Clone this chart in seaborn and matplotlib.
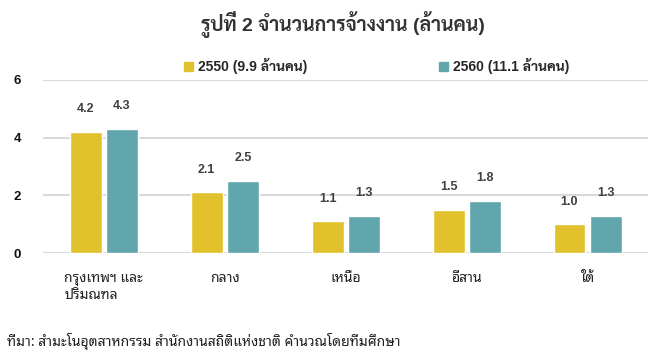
import pandas as pd
import numpy as np
import matplotlib
matplotlib.use('Agg')
import matplotlib.pyplot as plt
import seaborn as sns
import warnings
warnings.filterwarnings('ignore')

regions = ['กรุงเทพฯ และ\nปริมณฑล', 'กลาง', 'เหนือ', 'อีสาน', 'ใต้']
emp_2550 = [4.2, 2.1, 1.1, 1.5, 1.0]
emp_2560 = [4.3, 2.5, 1.3, 1.8, 1.3]
series = ['2550 (9.9 ล้านคน)', '2560 (11.1 ล้านคน)']
yticks = [0, 2, 4, 6]

thai = ['Noto Sans Thai Looped', 'DejaVu Sans']
bold_mixed = ['Liberation Sans', 'Sarabun', 'DejaVu Sans']

df = pd.DataFrame({
    'region': regions * 2,
    'value': emp_2550 + emp_2560,
    'year': [series[0]] * len(regions) + [series[1]] * len(regions),
})

sns.set_style('white')
plt.rcParams['font.family'] = thai

fig = plt.figure(figsize=(6.56, 3.58), dpi=100)
ax = fig.add_axes([0.066, 0.293, 0.922, 0.484])

sns.barplot(data=df, x='region', y='value', hue='year', order=regions,
            hue_order=series, palette=['#E1C22C', '#62A6AD'],
            width=0.6, gap=0.12, saturation=1, ax=ax, legend=False)

for c in ax.containers:
    ax.bar_label(c, fmt='%.1f', padding=12, fontsize=9, fontweight='bold',
                 color='#404040', family='Liberation Sans')

ax.set_ylim(0, 6)
ax.set_yticks(yticks)
ax.set_yticklabels([str(t) for t in yticks], fontsize=9.5, fontweight='bold',
                   family='Liberation Sans', color='#111111')
ax.yaxis.grid(True, color='#D9D9D9', linewidth=1.5)
ax.set_axisbelow(True)
for s in ax.spines.values():
    s.set_visible(False)
ax.tick_params(axis='both', length=0)
ax.tick_params(axis='y', pad=16)
ax.tick_params(axis='x', pad=13, labelsize=10, labelcolor='#222222')
ax.set_xlabel('')
ax.set_ylabel('')
for lab in ax.get_xticklabels():
    lab.set_multialignment('left')

handles = [plt.Rectangle((0, 0), 1, 1, color=c) for c in ['#E1C22C', '#62A6AD']]
fig.legend(handles, series, loc='center', bbox_to_anchor=(377 / 656, 1 - 66 / 358),
           ncol=2, frameon=False, handlelength=0.6, handleheight=0.6,
           handletextpad=0.4, columnspacing=9.5,
           prop={'family': bold_mixed, 'weight': 'bold', 'size': 10})

fig.text(343 / 656, 1 - 25 / 358, 'รูปที่ 2 จำนวนการจ้างงาน (ล้านคน)', ha='center',
         va='center', fontsize=14, fontweight='bold', color='#333333', family=bold_mixed)

fig.text(7 / 656, 1 - 342 / 358,
         'ที่มา: สำมะโนอุตสาหกรรม สำนักงานสถิติแห่งชาติ คำนวณโดยทีมศึกษา',
         ha='left', va='center', fontsize=10, color='#222222')

fig.savefig('out.png', dpi=100)
